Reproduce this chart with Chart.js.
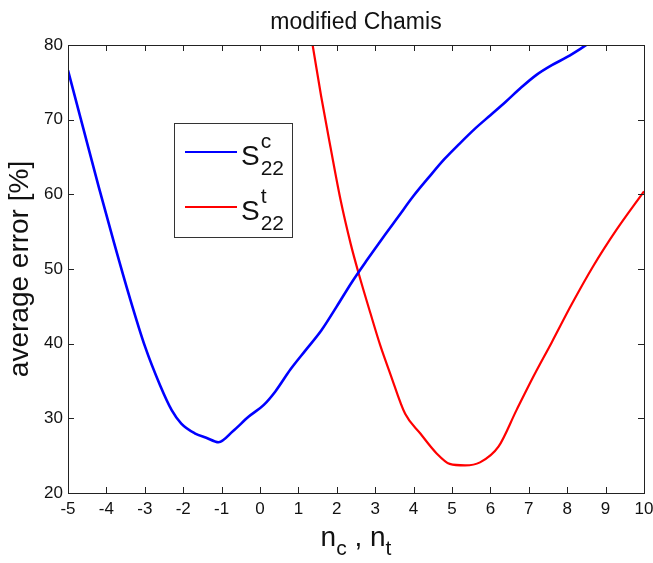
<!DOCTYPE html>
<html>
<head>
<meta charset="utf-8">
<script src="https://cdn.jsdelivr.net/npm/chart.js@4.4.1/dist/chart.umd.min.js"></script>
<style>
  html, body { margin: 0; padding: 0; background: #fff; }
  #wrap { width: 653px; height: 563px; }
</style>
</head>
<body>
<div id="wrap"><canvas id="chartErr"></canvas></div>
<script>
const chartTitle = 'modified Chamis';
const xTicks = [-5, -4, -3, -2, -1, 0, 1, 2, 3, 4, 5, 6, 7, 8, 9, 10];
const yTicks = [20, 30, 40, 50, 60, 70, 80];

// S22 compression (blue)
const compX = [-5, -4.6, -4.2, -3.8, -3.4, -3.0, -2.6, -2.3, -2.05, -1.7, -1.4, -1.08,
  -0.7, -0.3, 0.1, 0.4, 0.8, 1.2, 1.6, 2.0, 2.4, 2.8, 3.2, 3.6, 4.0, 4.4, 4.8, 5.2, 5.6,
  6.0, 6.4, 6.8, 7.2, 7.6, 8.0, 8.5, 9.0];
const compY = [76.6, 68.8, 61.0, 53.5, 46.3, 39.7, 34.4, 31.1, 29.3, 28.0, 27.4, 26.8,
  28.3, 30.2, 31.8, 33.6, 36.6, 39.2, 41.8, 45.0, 48.3, 51.3, 54.2, 57.0, 59.8, 62.3, 64.7, 66.8, 68.8,
  70.6, 72.4, 74.3, 76.0, 77.3, 78.4, 80.0, 81.6];

// S22 tension (red)
const tensX = [1.2, 1.37, 1.59, 1.84, 2.10, 2.36, 2.57, 2.88, 3.13, 3.39, 3.78, 4.17, 4.60, 4.94,
  5.34, 5.73, 6.21, 6.68, 7.12, 7.60, 8.12, 8.68, 9.29, 10.0];
const tensY = [85.0, 80.0, 73.2, 66.2, 59.2, 53.4, 49.4, 44.0, 39.8, 36.0, 30.6, 28.0, 25.3, 23.9,
  23.7, 24.1, 26.2, 31.1, 35.6, 40.2, 45.3, 50.4, 55.3, 60.4];

const fontName = "'Liberation Sans', Arial, sans-serif";

function makePoints(xs, ys) {
  const pts = [];
  for (let i = 0; i < xs.length; i++) {
    pts.push({x: xs[i], y: ys[i]});
  }
  return pts;
}

// box round the plot with inward ticks on all four sides
const boxTicks = {
  id: 'boxTicks',
  afterDatasetsDraw(chart) {
    const ctx = chart.ctx;
    const a = chart.chartArea;
    const sx = chart.scales.x;
    const sy = chart.scales.y;
    ctx.save();
    ctx.strokeStyle = '#222';
    ctx.lineWidth = 1;
    ctx.beginPath();
    for (const v of xTicks) {
      const px = Math.round(sx.getPixelForValue(v)) + 0.5;
      ctx.moveTo(px, a.bottom);
      ctx.lineTo(px, a.bottom - 6);
      ctx.moveTo(px, a.top);
      ctx.lineTo(px, a.top + 6);
    }
    for (const v of yTicks) {
      const py = Math.round(sy.getPixelForValue(v)) + 0.5;
      ctx.moveTo(a.left, py);
      ctx.lineTo(a.left + 6, py);
      ctx.moveTo(a.right, py);
      ctx.lineTo(a.right - 6, py);
    }
    ctx.stroke();
    ctx.strokeRect(Math.round(a.left) + 0.5, Math.round(a.top) + 0.5,
      Math.round(a.right - a.left), Math.round(a.bottom - a.top));
    ctx.restore();
  }
};

// S with super/subscripts, like the tex labels
function drawScript(ctx, x, base, main, sup, sub) {
  ctx.font = '28px ' + fontName;
  ctx.fillText(main, x, base);
  const w = ctx.measureText(main).width;
  ctx.font = '21px ' + fontName;
  ctx.fillText(sup, x + w + 1, base - 17);
  ctx.fillText(sub, x + w + 1, base + 10);
}

const texLegend = {
  id: 'texLegend',
  afterDraw(chart) {
    const ctx = chart.ctx;
    ctx.save();
    ctx.fillStyle = '#fff';
    ctx.fillRect(174, 123, 119, 115);
    ctx.strokeStyle = '#333';
    ctx.lineWidth = 1;
    ctx.strokeRect(174.5, 123.5, 118, 114);
    const entries = chart.data.datasets;
    for (let i = 0; i < entries.length; i++) {
      const yy = 152 + i * 55;
      ctx.strokeStyle = entries[i].borderColor;
      ctx.lineWidth = 2;
      ctx.beginPath();
      ctx.moveTo(185, yy);
      ctx.lineTo(237, yy);
      ctx.stroke();
      ctx.fillStyle = '#111';
      ctx.textBaseline = 'alphabetic';
      drawScript(ctx, 241, yy + 13, 'S', entries[i].sup, '22');
    }
    ctx.restore();
  }
};

// title and x label centred on the plot box
const texTitles = {
  id: 'texTitles',
  afterDraw(chart) {
    const ctx = chart.ctx;
    const a = chart.chartArea;
    const cx = (a.left + a.right) / 2;
    ctx.save();
    ctx.fillStyle = '#111';
    ctx.textAlign = 'center';
    ctx.textBaseline = 'alphabetic';
    ctx.font = '23px ' + fontName;
    ctx.fillText(chartTitle, cx, 29);

    ctx.textAlign = 'left';
    const parts = [['n', 28, 0], ['c', 21, 9], [' , ', 28, 0], ['n', 28, 0], ['t', 21, 9]];
    let total = 0;
    for (const p of parts) {
      ctx.font = p[1] + 'px ' + fontName;
      total += ctx.measureText(p[0]).width;
    }
    let x = cx - total / 2;
    for (const p of parts) {
      ctx.font = p[1] + 'px ' + fontName;
      ctx.fillText(p[0], x, 546 + p[2]);
      x += ctx.measureText(p[0]).width;
    }
    ctx.restore();
  }
};

const ctxErr = document.getElementById('chartErr');
new Chart(ctxErr, {
  type: 'line',
  data: {
    datasets: [
      {
        label: 'S22c',
        sup: 'c',
        data: makePoints(compX, compY),
        borderColor: '#0000ff',
        borderWidth: 2.6,
        pointRadius: 0,
        cubicInterpolationMode: 'monotone'
      },
      {
        label: 'S22t',
        sup: 't',
        data: makePoints(tensX, tensY),
        borderColor: '#ff0000',
        borderWidth: 2.2,
        pointRadius: 0,
        cubicInterpolationMode: 'monotone'
      }
    ]
  },
  options: {
    responsive: true,
    maintainAspectRatio: false,
    animation: false,
    devicePixelRatio: 1,
    layout: {
      autoPadding: false,
      padding: {left: 0, right: 9, top: 45, bottom: 0}
    },
    plugins: {
      legend: {display: false},
      tooltip: {enabled: false},
      title: {display: false}
    },
    scales: {
      x: {
        type: 'linear',
        min: -5,
        max: 10,
        afterFit(scale) {
          scale.height = 70;
          scale.paddingLeft = 0;
          scale.paddingRight = 0;
        },
        afterBuildTicks(scale) { scale.ticks = xTicks.map(v => ({value: v})); },
        grid: {display: false, drawTicks: false},
        border: {display: false},
        ticks: {
          color: '#111',
          font: {family: fontName, size: 17},
          padding: 6,
          maxRotation: 0
        }
      },
      y: {
        type: 'linear',
        min: 20,
        max: 80,
        afterFit(scale) {
          scale.width = 68;
          scale.paddingTop = 0;
          scale.paddingBottom = 0;
        },
        afterBuildTicks(scale) { scale.ticks = yTicks.map(v => ({value: v})); },
        grid: {display: false, drawTicks: false},
        border: {display: false},
        ticks: {
          color: '#111',
          font: {family: fontName, size: 17},
          padding: 5
        },
        title: {
          display: true,
          text: 'average error [%]',
          color: '#111',
          font: {family: fontName, size: 28},
          padding: {top: 3, bottom: 0}
        }
      }
    }
  },
  plugins: [boxTicks, texLegend, texTitles]
});
</script>
</body>
</html>
